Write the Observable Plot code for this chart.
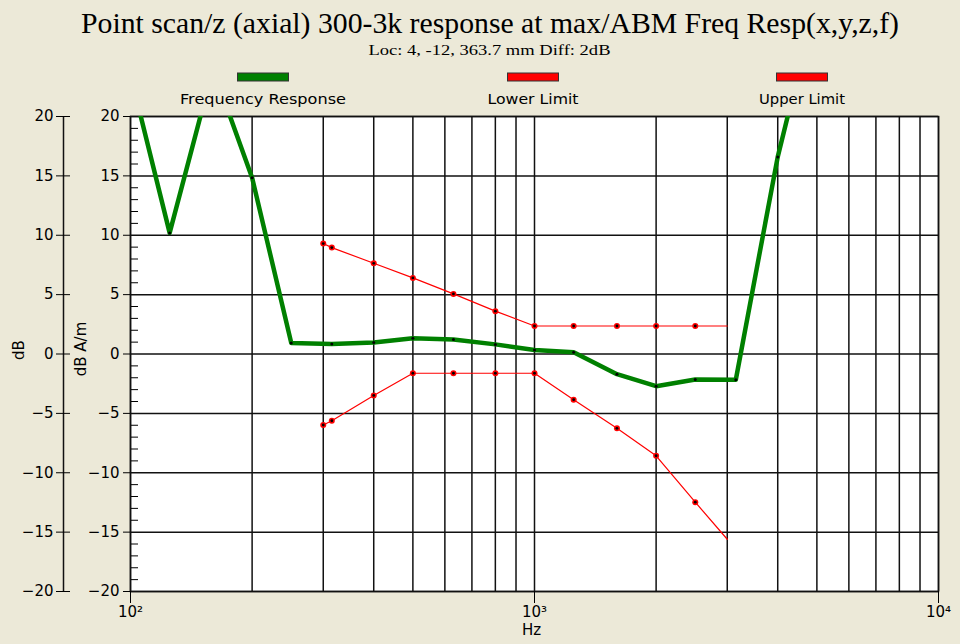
<!DOCTYPE html>
<html>
<head>
<meta charset="utf-8">
<script src="https://cdn.jsdelivr.net/npm/d3@7"></script>
<script src="https://cdn.jsdelivr.net/npm/@observablehq/plot@0.6"></script>
<style>
  html, body { margin: 0; padding: 0; background: #ECE9D8; }
  #chart { width: 960px; height: 644px; }
</style>
</head>
<body>
<div id="chart"></div>
<script>
// ---- data ----
const respFreq = [100, 125, 160, 200, 250, 315, 400, 500, 630, 800, 1000, 1250, 1600, 2000, 2500, 3150, 4000, 5000];
const respDb   = [23.5, 10.2, 24.0, 14.85, 0.92, 0.84, 0.96, 1.33, 1.23, 0.81, 0.33, 0.14, -1.7, -2.71, -2.14, -2.17, 16.6, 30];

const limFreq  = [300, 315, 400, 500, 630, 800, 1000, 1250, 1600, 2000, 2500, 3000];
const upperDb  = [9.3, 8.96, 7.64, 6.41, 5.06, 3.61, 2.36, 2.36, 2.36, 2.36, 2.36, 2.36];
const lowerDb  = [-5.98, -5.62, -3.49, -1.62, -1.62, -1.62, -1.62, -3.85, -6.26, -8.57, -12.48, -15.6];
const limDotCount = 11; // last point has no marker

const legendLabels = ["Frequency Response", "Lower Limit", "Upper Limit"];
const legendColors = ["#008000", "#FF0000", "#FF0000"];

const titleText = "Point scan/z (axial) 300-3k response at max/ABM Freq Resp(x,y,z,f)";
const subtitleText = "Loc: 4, -12, 363.7 mm Diff: 2dB";

const decadeTicks = [100, 1000, 10000];
const gridFreqs = [100,200,300,400,500,600,700,800,900,1000,2000,3000,4000,5000,6000,7000,8000,9000,10000];
const majorDb = [-20, -15, -10, -5, 0, 5, 10, 15, 20];
const minorDb = d3.range(-19, 20).filter(d => d % 5 !== 0);

// ---- tables ----
const resp = respFreq.map((f, i) => ({f, v: respDb[i]}));
const upper = limFreq.map((f, i) => ({f, v: upperDb[i]}));
const lower = limFreq.map((f, i) => ({f, v: lowerDb[i]}));
const sup = {2: "²", 3: "³", 4: "⁴"};

const svg = Plot.plot({
  width: 960,
  height: 644,
  marginTop: 116,
  marginBottom: 53,
  marginLeft: 130,
  marginRight: 22,
  x: {type: "log", domain: [100, 10000]},
  y: {domain: [-20, 20]},
  style: {background: "#ECE9D8", fontFamily: "DejaVu Sans, sans-serif", fontSize: "15px", color: "#000"},
  marks: [
    Plot.frame({fill: "white", stroke: null}),
    Plot.gridX({ticks: gridFreqs, stroke: "#111", strokeOpacity: 1, strokeWidth: 1.5}),
    Plot.gridY({ticks: majorDb, stroke: "#111", strokeOpacity: 1, strokeWidth: 1.5}),
    Plot.frame({stroke: "#111", strokeWidth: 1.5}),
    // inner y axis (dB A/m)
    Plot.axisY({ticks: majorDb, tickSize: 7, tickPadding: 4, label: null, fontSize: 15}),
    Plot.axisY({anchor: "right", ticks: minorDb, tickSize: 7, tickFormat: () => "", dx: -808, label: null}),
    // outer y axis (dB)
    Plot.ruleX([100], {dx: -67, stroke: "#111", strokeWidth: 1.5}),
    Plot.axisY({ticks: majorDb, tickSize: 14, tickPadding: 3, dx: -60, label: null, fontSize: 15}),
    // x axis
    Plot.axisX({ticks: decadeTicks, tickSize: 12, tickPadding: 3, label: null, fontSize: 15,
      tickFormat: d => "10" + sup[Math.round(Math.log10(d))]}),
    Plot.text(["Hz"], {frameAnchor: "bottom", dy: 43, dx: -3, text: d => d, fontSize: 15}),
    // limit lines
    Plot.line(upper, {x: "f", y: "v", stroke: "#FF0000", strokeWidth: 1.2}),
    Plot.line(lower, {x: "f", y: "v", stroke: "#FF0000", strokeWidth: 1.2}),
    Plot.dot(upper.slice(0, limDotCount), {x: "f", y: "v", r: 3, fill: "#FF0000"}),
    Plot.dot(lower.slice(0, limDotCount), {x: "f", y: "v", r: 3, fill: "#FF0000"}),
    Plot.dot(upper.slice(0, limDotCount), {x: "f", y: "v", r: 1.4, fill: "#000"}),
    Plot.dot(lower.slice(0, limDotCount), {x: "f", y: "v", r: 1.4, fill: "#000"}),
    // response
    Plot.line(resp, {x: "f", y: "v", stroke: "#008000", strokeWidth: 4.5, clip: true}),
    Plot.dot(resp, {x: "f", y: "v", r: 1.5, fill: "#000", clip: true})
  ]
});

document.getElementById("chart").appendChild(svg);

const s = d3.select(svg);
// title & subtitle
s.append("text").attr("x", 490).attr("y", 33).attr("text-anchor", "middle")
  .attr("font-family", "Liberation Serif, Times New Roman, serif").attr("font-size", 30)
  .attr("textLength", 818).attr("lengthAdjust", "spacingAndGlyphs").attr("fill", "#000").text(titleText);
s.append("text").attr("x", 489.5).attr("y", 55).attr("text-anchor", "middle")
  .attr("font-family", "Liberation Serif, Times New Roman, serif").attr("font-size", 15)
  .attr("textLength", 242).attr("lengthAdjust", "spacingAndGlyphs").attr("fill", "#000").text(subtitleText);
// legend
const legendX = [263, 533, 802];
const legendW = [166, 91, 86];
legendLabels.forEach((lab, i) => {
  s.append("rect").attr("x", legendX[i] - 25.5).attr("y", 73).attr("width", 51).attr("height", 8)
    .attr("fill", legendColors[i]).attr("stroke", "#333").attr("stroke-width", 1);
  s.append("text").attr("x", legendX[i]).attr("y", 103.5).attr("text-anchor", "middle")
    .attr("font-family", "DejaVu Sans, sans-serif").attr("font-size", 14)
    .attr("textLength", legendW[i]).attr("lengthAdjust", "spacingAndGlyphs").attr("fill", "#000").text(lab);
});
// y axis titles
s.append("text").attr("transform", "translate(24,350) rotate(-90)").attr("text-anchor", "middle")
  .attr("font-family", "DejaVu Sans, sans-serif").attr("font-size", 15).attr("fill", "#000").text("dB");
s.append("text").attr("transform", "translate(86,349) rotate(-90)").attr("text-anchor", "middle")
  .attr("font-family", "DejaVu Sans, sans-serif").attr("font-size", 15).attr("fill", "#000").text("dB A/m");
</script>
</body>
</html>
